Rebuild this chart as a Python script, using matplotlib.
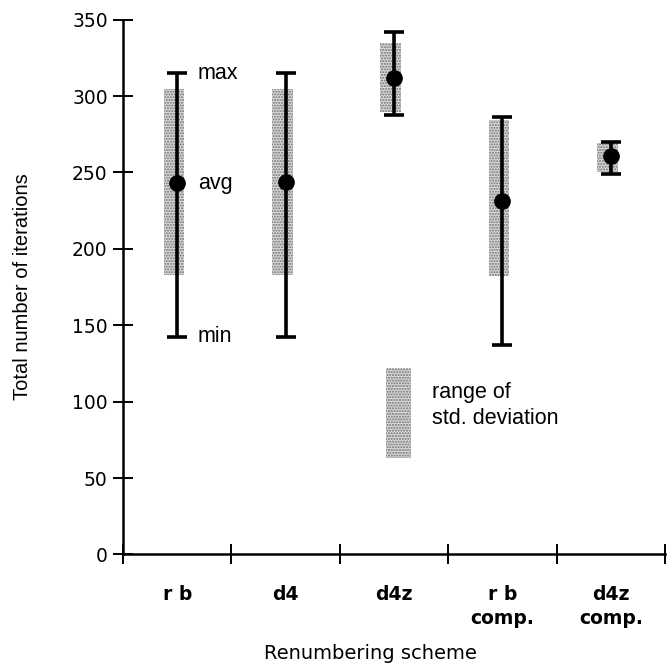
import matplotlib.pyplot as plt
import numpy as np

# values
schemes = ["r b", "d4", "d4z", "r b\ncomp.", "d4z\ncomp."]
avg_iter = [243, 243.5, 312, 231.5, 260.5]
max_iter = [315, 315, 342, 286, 270]
min_iter = [142.5, 142, 287.5, 137, 249]
std_lo = [183, 183, 289.5, 182, 250.5]
std_hi = [304.5, 304.5, 334.5, 284.5, 269.5]

legend_lo, legend_hi = 63, 122

fig = plt.figure(figsize=(6.67, 6.70), dpi=100)
ax = fig.add_axes([0.1844, 0.1724, 0.8126, 0.7983])

xs = np.arange(len(schemes)) + 0.5
lo = np.array(std_lo)
hi = np.array(std_hi)

# std deviation shading (stippled)
ax.bar(xs - 0.03, hi - lo, bottom=lo, width=0.19, color="#d9d9d9",
       edgecolor="#707070", hatch="......", linewidth=0, zorder=1)
ax.bar([2.545], [legend_hi - legend_lo], bottom=legend_lo, width=0.23,
       color="#d9d9d9", edgecolor="#707070", hatch="......", linewidth=0, zorder=1)

avg = np.array(avg_iter)
yerr = [avg - np.array(min_iter), np.array(max_iter) - avg]
ax.errorbar(xs, avg, yerr=yerr, fmt="o", color="black", ms=11, elinewidth=2.6,
            capsize=7, capthick=2.6, zorder=3)

txt = dict(fontsize=15.5, family="Liberation Sans", va="center")
ax.text(0.69, max_iter[0], "max", **txt)
ax.text(0.69, avg_iter[0], "avg", **txt)
ax.text(0.69, min_iter[0], "min", **txt)
ax.text(2.85, 106, "range of", **txt)
ax.text(2.85, 89, "std. deviation", **txt)

ax.set_xlim(0, 5)
ax.set_ylim(0, 350)
ax.spines["top"].set_visible(False)
ax.spines["right"].set_visible(False)
ax.spines["left"].set_linewidth(1.8)
ax.spines["bottom"].set_linewidth(1.8)

ax.set_yticks(np.arange(0, 351, 50))
ax.tick_params(axis="y", direction="inout", length=14, width=1.4,
               labelsize=13.5, pad=4)
ax.set_xticks(xs)
ax.set_xticklabels(schemes, fontsize=13.5, family="DejaVu Sans", fontweight="bold",
                   linespacing=1.3)
ax.tick_params(axis="x", which="major", length=0, pad=22)
ax.set_xticks(np.arange(0, 6), minor=True)
ax.tick_params(axis="x", which="minor", direction="inout", length=14, width=1.4)

ax.set_ylabel("Total number of iterations", fontsize=14.5, family="Liberation Sans")
ax.yaxis.set_label_coords(-0.168, 0.5)
ax.set_xlabel("Renumbering scheme", fontsize=14, family="DejaVu Sans")
ax.xaxis.set_label_coords(0.457, -0.168)

fig.savefig("out.png", dpi=100)
